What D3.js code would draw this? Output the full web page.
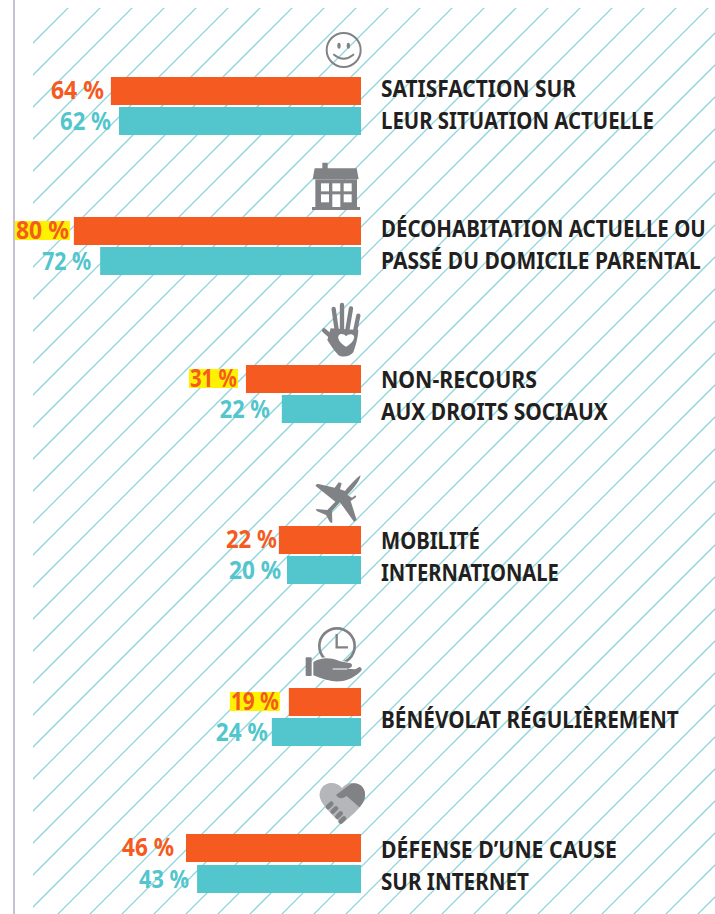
<!DOCTYPE html>
<html lang="fr">
<head>
<meta charset="utf-8">
<script src="https://cdn.jsdelivr.net/npm/d3@7"></script>
<style>
  html, body { margin: 0; padding: 0; background: #fff; }
  svg { display: block; }
  text { font-family: "Noto Sans", sans-serif; font-weight: 700; }
</style>
</head>
<body>
<div id="chart"></div>
<script>
// Survey topics, top to bottom
const topics = ["satisfaction", "decohabitation", "nonRecours", "mobilite", "benevolat", "defense"];
const topicLines = [
    ["SATISFACTION SUR", "LEUR SITUATION ACTUELLE"],
    ["DÉCOHABITATION ACTUELLE OU", "PASSÉ DU DOMICILE PARENTAL"],
    ["NON-RECOURS", "AUX DROITS SOCIAUX"],
    ["MOBILITÉ", "INTERNATIONALE"],
    ["BÉNÉVOLAT RÉGULIÈREMENT"],
    ["DÉFENSE D’UNE CAUSE", "SUR INTERNET"]
];

// Printed values
const orangeLabels = [64, 80, 31, 22, 19, 46];
const tealLabels = [62, 72, 22, 20, 24, 43];

// Bar lengths as measured on the picture (the printed bars are not quite proportional to their labels)
const orangeBars = [67.6, 77.6, 31.1, 22.2, 19.5, 47.3];
const tealBars = [65.4, 70.5, 21.4, 20.0, 24.1, 44.3];

// Labels that carry the yellow marker
const highlighted = ["decohabitation", "nonRecours", "benevolat"];

const width = 715;
const height = 914;
const orange = "#f55a20";
const teal = "#52c5cd";
const grey = "#808285";

// Layout
const rowTops = [77, 217, 365, 526, 688, 834];
const tealOffsets = [30, 30, 30, 30, 30, 31];
const orangeGaps = [7, 5, 9, 2, 10, 12];
const tealGaps = [8, 9, 12, 6, 4, 8];
const textOffsets = [20, 20, 23, 23, 40, 24];
const captionWidths = [[195, 273], [325, 320], [156, 227], [99, 178], [298], [236, 148]];
const orangeWidths = [53, 53, 47, 51, 48, 52];
const tealWidths = [51, 49, 50, 52, 52, 50];

const x = d3.scaleLinear().domain([0, 100]).range([361, -9]);
const rowTop = d3.scaleOrdinal().domain(topics).range(rowTops);
const barHeight = 28;

const svg = d3.select("#chart")
    .append("svg")
    .attr("width", width)
    .attr("height", height);

svg.append("clipPath").attr("id", "hatch-clip")
    .append("rect")
    .attr("x", 33).attr("y", 8)
    .attr("width", width - 33).attr("height", height - 8);

// Diagonal hatching
svg.append("g")
    .attr("clip-path", "url(#hatch-clip)")
    .selectAll("line")
    .data(d3.range(76, width + height + 32, 32))
    .enter()
    .append("line")
    .attr("x1", 0)
    .attr("y1", d => d)
    .attr("x2", d => d)
    .attr("y2", 0)
    .attr("stroke", "#8fd5dc")
    .attr("stroke-width", 1.25);

// Page margin rule
svg.append("line")
    .attr("x1", 14).attr("x2", 14)
    .attr("y1", 0).attr("y2", height)
    .attr("stroke", "#c6bfd6")
    .attr("stroke-width", 2);

const rows = topics.map((t, i) => ({
    topic: t,
    i: i,
    lines: topicLines[i],
    orange: orangeBars[i],
    teal: tealBars[i],
    orangeLabel: orangeLabels[i],
    tealLabel: tealLabels[i]
}));

const row = svg.selectAll("g.row")
    .data(rows)
    .enter()
    .append("g")
    .attr("class", "row");

// Bars
row.append("rect")
    .attr("x", d => x(d.orange))
    .attr("y", d => rowTop(d.topic))
    .attr("width", d => x(0) - x(d.orange))
    .attr("height", barHeight)
    .attr("fill", orange);

row.append("rect")
    .attr("x", d => x(d.teal))
    .attr("y", d => rowTop(d.topic) + tealOffsets[d.i])
    .attr("width", d => x(0) - x(d.teal))
    .attr("height", barHeight)
    .attr("fill", teal);

// The print font is a narrow one: squeeze each text sideways to its measured width
function fit(sel, xOf, yOf, widthOf) {
    sel.each(function (d) {
        const k = widthOf(d) / this.getComputedTextLength();
        d3.select(this).attr("transform", `translate(${xOf(d)},${yOf(d)}) scale(${k},1)`);
    });
}

const orangeRight = d => x(d.orange) - orangeGaps[d.i];

// Yellow marker goes under the orange value
row.filter(d => highlighted.includes(d.topic))
    .append("rect")
    .attr("x", d => orangeRight(d) - orangeWidths[d.i] - 1)
    .attr("y", d => rowTop(d.topic) + 4)
    .attr("width", d => orangeWidths[d.i] + 2)
    .attr("height", 19)
    .attr("fill", "#fff200");

row.append("text")
    .attr("text-anchor", "end")
    .attr("font-size", 24.5)
    .attr("fill", orange)
    .text(d => d.orangeLabel + " %")
    .call(fit, orangeRight, d => rowTop(d.topic) + 22, d => orangeWidths[d.i]);

row.append("text")
    .attr("text-anchor", "end")
    .attr("font-size", 24.5)
    .attr("fill", teal)
    .text(d => d.tealLabel + " %")
    .call(fit, d => x(d.teal) - tealGaps[d.i], d => rowTop(d.topic) + tealOffsets[d.i] + 23, d => tealWidths[d.i]);

// Topic captions
row.selectAll("text.caption")
    .data(d => d.lines.map((l, k) => ({ line: l, k: k, top: rowTop(d.topic), off: textOffsets[d.i], w: captionWidths[d.i][k] })))
    .enter()
    .append("text")
    .attr("class", "caption")
    .attr("font-size", 24)
    .attr("fill", "#231f20")
    .text(d => d.line)
    .call(fit, () => 381, d => d.top + d.off + d.k * 32, d => d.w);

// Icons, drawn at 3x and scaled down
function icon(tx, ty) {
    return svg.append("g").attr("transform", `translate(${tx},${ty}) scale(${1 / 3})`).attr("fill", grey);
}

// Smiley
const smile = icon(300, 20);
smile.append("circle").attr("cx", 131).attr("cy", 90).attr("r", 51)
    .attr("fill", "none").attr("stroke", grey).attr("stroke-width", 6);
smile.append("ellipse").attr("cx", 117).attr("cy", 77).attr("rx", 5).attr("ry", 9);
smile.append("ellipse").attr("cx", 145).attr("cy", 77).attr("rx", 5).attr("ry", 9);
smile.append("path").attr("d", "M102,104 Q131,128 160,104").attr("fill", "none")
    .attr("stroke", grey).attr("stroke-width", 6).attr("stroke-linecap", "round");

// House
const house = icon(300, 20);
house.append("path").attr("d", "M67,428 H83 V445 H170 L176,478 H38 L44,445 H67 Z");
house.append("rect").attr("x", 46).attr("y", 478).attr("width", 125).attr("height", 85);
house.append("rect").attr("x", 36).attr("y", 561).attr("width", 144).attr("height", 9);
[[63, 490, 24, 24], [97, 490, 24, 24], [131, 490, 24, 24], [63, 523, 24, 24], [97, 523, 24, 38], [131, 523, 24, 24]]
    .forEach(w => house.append("rect").attr("x", w[0]).attr("y", w[1]).attr("width", w[2]).attr("height", w[3]).attr("fill", "#fff"));

// Hand with a heart
const hand = icon(290, 295);
hand.append("path").attr("d", "M122,100 L205,105 C204,130 196,155 190,172 C180,186 155,188 145,180 C130,165 122,150 112,135 Z");
[[131, 42, 140, 105], [156, 30, 156, 105], [183, 40, 172, 105], [205, 62, 192, 125], [102, 106, 135, 135]]
    .forEach(f => hand.append("line").attr("x1", f[0]).attr("y1", f[1]).attr("x2", f[2]).attr("y2", f[3])
        .attr("stroke", grey).attr("stroke-width", 13).attr("stroke-linecap", "round"));
hand.append("path").attr("fill", "#fff")
    .attr("d", "M168,155 C155,148 142,135 145,123 C150,114 162,116 168,124 C174,116 188,115 192,123 C195,135 180,150 168,155 Z");

// Plane
icon(290, 295).append("path")
    .attr("d", "M212,541 C210,555 195,577 172,600 L186,608 L196,601 L199,606 L182,618 L200,675 L192,680 L150,622 L126,648 L127,684 L120,682 L108,660 L80,648 L78,642 L112,645 L136,620 L76,572 L82,566 L134,578 L146,562 L155,565 L150,583 L165,588 C180,570 200,548 212,541 Z");

// Open hand under a clock
const clock = icon(290, 620);
clock.append("circle").attr("cx", 141).attr("cy", 78).attr("r", 53)
    .attr("fill", "none").attr("stroke", grey).attr("stroke-width", 8);
clock.append("path").attr("d", "M140,42 V82 H174").attr("fill", "none").attr("stroke", grey).attr("stroke-width", 7);
clock.append("rect").attr("x", 47).attr("y", 112).attr("width", 18).attr("height", 56).attr("rx", 3);
clock.append("path")
    .attr("stroke", "#fff").attr("stroke-width", 5).attr("paint-order", "stroke")
    .attr("d", "M70,126 C95,110 125,112 150,124 L182,130 C190,135 186,145 172,146 L196,148 L208,141 C216,142 218,150 210,156 C195,170 175,182 150,184 C125,186 100,178 70,166 Z");
clock.append("path").attr("d", "M128,147 H172").attr("stroke", "#fff").attr("stroke-width", 3);

// Handshake in a heart
const shake = icon(290, 620);
shake.append("path").attr("fill", "#b5b6b9")
    .attr("d", "M156,504 C140,485 105,482 92,510 C80,535 100,560 155,612 C205,570 232,545 224,515 C215,485 175,480 156,504 Z");
shake.append("path").attr("d", "M138,525 L175,497 C190,482 222,490 225,520 C226,540 218,552 208,562 L170,528 C160,535 148,540 138,525 Z");
[[119, 556], [133, 570], [147, 585], [157, 600]].forEach(c =>
    shake.append("rect").attr("x", c[0] - 14).attr("y", c[1] - 7).attr("width", 28).attr("height", 14).attr("rx", 7)
        .attr("transform", `rotate(-45 ${c[0]} ${c[1]})`));
</script>
</body>
</html>
